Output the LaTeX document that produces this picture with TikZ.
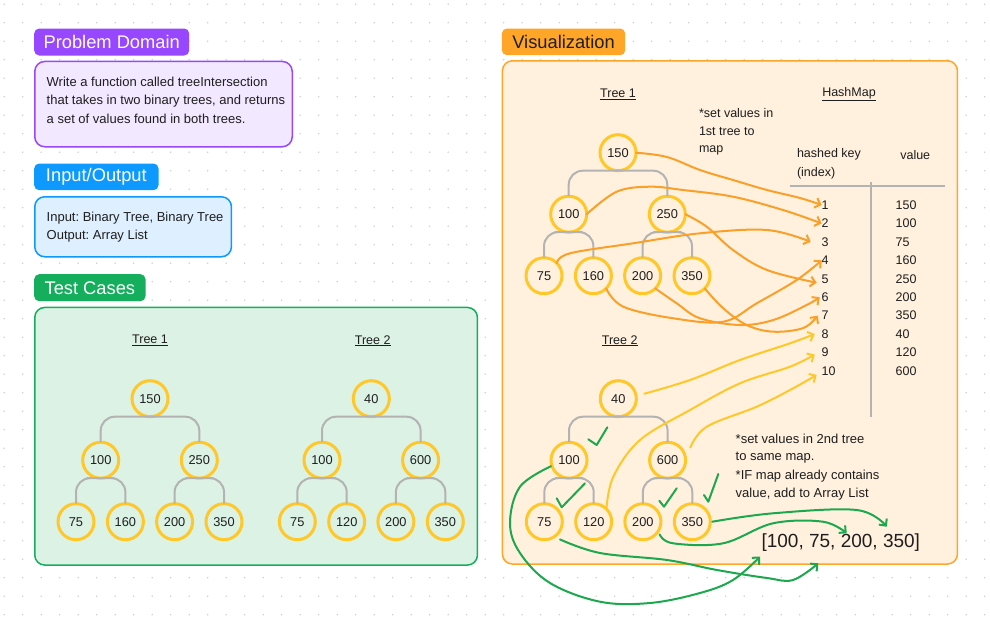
\documentclass[tikz,border=0pt]{standalone}
\usepackage{fontspec}
\setmainfont{Liberation Sans}
\usetikzlibrary{arrows.meta}
\frenchspacing
\definecolor{purp}{RGB}{151,71,255}
\definecolor{purpl}{RGB}{242,232,255}
\definecolor{blu}{RGB}{13,153,255}
\definecolor{blul}{RGB}{222,240,255}
\definecolor{grn}{RGB}{20,174,92}
\definecolor{grnl}{RGB}{220,242,229}
\definecolor{org}{RGB}{255,166,41}
\definecolor{orgl}{RGB}{255,241,222}
\definecolor{ycirc}{RGB}{255,199,40}
\definecolor{brgray}{RGB}{179,179,179}
\definecolor{oline}{RGB}{250,160,40}
\definecolor{yline}{RGB}{255,200,40}
\definecolor{gline}{RGB}{27,168,78}
\definecolor{ink}{RGB}{30,30,30}
\definecolor{dotc}{RGB}{205,205,205}
\newcommand\btree[8]{%
  \node[tn] (#1r) at (0,0) {#2};
  \node[tn] (#1l) at (-49.3,61.5) {#3};
  \node[tn] (#1q) at (49.3,61.5) {#4};
  \node[tn] (#1ll) at (-74,123) {#5};
  \node[tn] (#1lr) at (-24.6,123) {#6};
  \node[tn] (#1ql) at (24.6,123) {#7};
  \node[tn] (#1qr) at (74,123) {#8};
  \draw[br] (#1l.north) |- (#1r.south) -| (#1q.north);
  \draw[br] (#1ll.north) |- (#1l.south) -| (#1lr.north);
  \draw[br] (#1ql.north) |- (#1q.south) -| (#1qr.north);
}
\begin{document}
\begin{tikzpicture}[x=1pt,y=-1pt,
  tn/.style={circle, draw=ycirc, line width=3pt, minimum size=36pt, inner sep=0pt, outer sep=0pt, font=\fontsize{12.8}{14}\selectfont, text=ink},
  br/.style={draw=brgray, line width=2pt, rounded corners=14pt},
  txt/.style={inner sep=0pt, outer sep=0pt, font=\fontsize{12.5}{15}\selectfont, text=ink},
  btxt/.style={inner sep=0pt, outer sep=0pt, font=\fontsize{13}{15}\selectfont, text=ink, anchor=west},
  tag/.style={rounded corners=5pt, inner sep=0pt, anchor=north west, font=\fontsize{18.3}{20}\selectfont, text=white},
  panel/.style={rounded corners=10pt, line width=1.5pt, inner sep=0pt, anchor=north west},
  harrow/.style={line width=2pt, line cap=round, line join=round, -{Straight Barb[length=5pt,width=10pt]}},
  oarr/.style={harrow, draw=oline},
  yarr/.style={harrow, draw=yline},
  garr/.style={harrow, draw=gline},
  chk/.style={draw=gline, line width=2pt, line cap=round, line join=round},
  gridln/.style={draw=brgray, line width=2pt}
]
\useasboundingbox (0,0) rectangle (990,616);
\fill[white] (0,0) rectangle (990,616);
\foreach \i in {0,...,53} {\foreach \j in {0,...,33} {\fill[dotc] ({4.2+18.5*\i},{4.2+18.5*\j}) circle (0.8pt);}}

% ---------- Problem Domain ----------
\node[tag, fill=purp, minimum width=155pt, minimum height=27pt] (pdtag) at (34,28.3) {Problem Domain};
\node[panel, draw=purp, fill=purpl, minimum width=257.5pt, minimum height=85.3pt] (pdbox) at (34,60.7) {};
\node[btxt] (pd1) at (46.7,82.3) {Write a function called treeIntersection};
\node[btxt] (pd2) at (46.7,100.7) {that takes in two binary trees, and returns};
\node[btxt] (pd3) at (46.7,119) {a set of values found in both trees.};

% ---------- Input/Output ----------
\node[tag, fill=blu, minimum width=124.3pt, minimum height=26.7pt] (iotag) at (34,163.3) {Input/Output};
\node[panel, draw=blu, fill=blul, minimum width=196.7pt, minimum height=60pt] (iobox) at (34,196) {};
\node[btxt] (io1) at (46.7,218) {Input: Binary Tree, Binary Tree};
\node[btxt] (io2) at (46.7,236.3) {Output: Array List};

% ---------- Test Cases ----------
\node[tag, fill=grn, minimum width=111.3pt, minimum height=27pt] (tctag) at (34,274) {Test Cases};
\node[panel, draw=grn, fill=grnl, minimum width=442.7pt, minimum height=257.6pt] (tcbox) at (34,306.7) {};
\node[txt] (tct1) at (150,340.7) {\underline{Tree 1}};
\node[txt] (tct2) at (372.7,340.7) {\underline{Tree 2}};
\begin{scope}[shift={(150,398.7)}]
\btree{ta}{150}{100}{250}{75}{160}{200}{350}
\end{scope}
\begin{scope}[shift={(371.3,398.7)}]
\btree{tb}{40}{100}{600}{75}{120}{200}{350}
\end{scope}

% ---------- Visualization ----------
\node[tag, fill=org, text=ink, minimum width=123.3pt, minimum height=26.7pt] (vtag) at (501.7,28.3) {Visualization};
\node[panel, draw=org, fill=orgl, minimum width=455pt, minimum height=503.3pt] (vbox) at (501.7,60) {};
\node[txt] (vt1) at (618,94) {\underline{Tree 1}};
\node[txt] (vhm) at (849,94) {\underline{HashMap}};
\node[txt, anchor=west] (s1) at (699,113) {*set values in};
\node[txt, anchor=west] (s2) at (699,131.3) {1st tree to};
\node[txt, anchor=west] (s3) at (699,150) {map};
\node[txt, anchor=west] (hk1) at (797,154.7) {hashed key};
\node[txt, anchor=west] (hk2) at (797,173) {(index)};
\node[txt, anchor=west] (hv) at (900.3,154.7) {value};
\draw[gridln] (790,185.7) -- (945,185.7);
\draw[gridln] (870.7,182) -- (870.7,417.3);
\foreach \k/\v in {1/150,2/100,3/75,4/160,5/250,6/200,7/350,8/40,9/120,10/600} {
  \node[txt, anchor=west] (i\k) at (821.7,{205+18.44*(\k-1)}) {\k};
  \node[txt, anchor=west] (h\k) at (895.7,{205+18.44*(\k-1)}) {\v};
}
\begin{scope}[shift={(618,152.7)}]
\btree{va}{150}{100}{250}{75}{160}{200}{350}
\end{scope}
\node[txt] (vt2) at (619.7,340.7) {\underline{Tree 2}};
\begin{scope}[shift={(618.3,398.7)}]
\btree{vb}{40}{100}{600}{75}{120}{200}{350}
\end{scope}
\node[btxt] (n1) at (735.7,439) {*set values in 2nd tree};
\node[btxt] (n2) at (735.7,457.3) {to same map.};
\node[btxt] (n3) at (735.7,476) {*IF map already contains};
\node[btxt] (n4) at (735.7,494.3) {value, add to Array List};
\node[inner sep=0pt, font=\fontsize{19}{22}\selectfont, text=ink] (res) at (840.8,542.3) {[100, 75, 200, 350]};

% orange arrows (tree 1 -> map)
\draw[oarr] plot[smooth, tension=0.6] coordinates {(var.east) (667,157) (700,170) (733,180) (767,190) (800,198) (i1.west)};
\draw[oarr] plot[smooth, tension=0.6] coordinates {(val.east) (616.7,191.7) (650,186.7) (683,190) (733,196.7) (783,210) (i2.west)};
\draw[oarr] plot[smooth, tension=0.6] coordinates {(vall.north east) (570,253.3) (633,243.3) (700,233.3) (767,230) ([xshift=-11pt]i3.west)};
\draw[oarr] plot[smooth, tension=0.6] coordinates {(vaq.east) (706.7,226.7) (733,250) (767,270) ([xshift=-5pt,yshift=-4pt]i5.west)};
\draw[oarr] plot[smooth, tension=0.6] coordinates {(valr.south east) (623.3,306.7) (673.3,318.3) (723.3,321.7) (756.7,303.3) (796.7,280) (i4.west)};
\draw[oarr] plot[smooth, tension=0.6] coordinates {(vaql.south east) (676.7,303.3) (700,318.3) (740,325) (773.3,320) (806.7,305) ([xshift=-2pt]i6.west)};
\draw[oarr] plot[smooth, tension=0.6] coordinates {(vaqr.south east) (723.3,308.3) (746.7,325) (773.3,331.7) (803.3,328) ([xshift=-4pt]i7.west)};

% yellow arrows (tree 2 -> map)
\draw[yarr] plot[smooth, tension=0.6] coordinates {([xshift=8pt,yshift=5pt]vbr.east) (690,380) (740,360) (790,343.3) ([xshift=-7pt]i8.west)};
\draw[yarr] plot[smooth, tension=0.6] coordinates {(vblr.north east) (613.3,476.7) (640,440) (690,410) (740,383.3) (790,366.7) ([xshift=-7pt,yshift=-2pt]i9.west)};
\draw[yarr] plot[smooth, tension=0.6] coordinates {([xshift=10pt]vbq.north east) (706.7,426.7) (756.7,406.7) (790,390) ([xshift=-5pt,yshift=-4pt]i10.west)};

% check marks
\draw[chk] (588.3,439.3) -- (596.7,445) -- (607.3,427.3);
\draw[chk] (556.7,498.3) -- (561.7,507.3) -- (585,483.3);
\draw[chk] (659.3,500.7) -- (664,506.7) -- (676.7,488.3);
\draw[chk] (704,495) -- (708.3,501.7) -- (718.3,474);

% green arrows (duplicates -> array list)
\coordinate (e350) at (886.7,526.7);
\coordinate (e200) at (846.7,533.3);
\coordinate (e75) at (818.3,563.3);
\coordinate (e100) at (760,556.7);
\draw[garr] plot[smooth, tension=0.6] coordinates {([xshift=2pt]vbqr.east) (773,513.3) (856.7,510) (e350)};
\draw[garr] plot[smooth, tension=0.6] coordinates {([xshift=4pt]vbql.south east) (673,543.3) (723,543.3) (773,523.3) (823,521.7) (e200)};
\draw[garr] plot[smooth, tension=0.6] coordinates {([xshift=3pt,yshift=-5pt]vbll.south east) (600,553) (667,560) (717,570) (767,578) (793,580) (e75)};
\draw[garr] plot[smooth, tension=0.6] coordinates {([yshift=-6pt]vbl.west) (520,486.7) (510,523) (520,553) (550,583) (600,601.7) (650,603) (700,593) (733,580) (e100)};
\end{tikzpicture}
\end{document}
